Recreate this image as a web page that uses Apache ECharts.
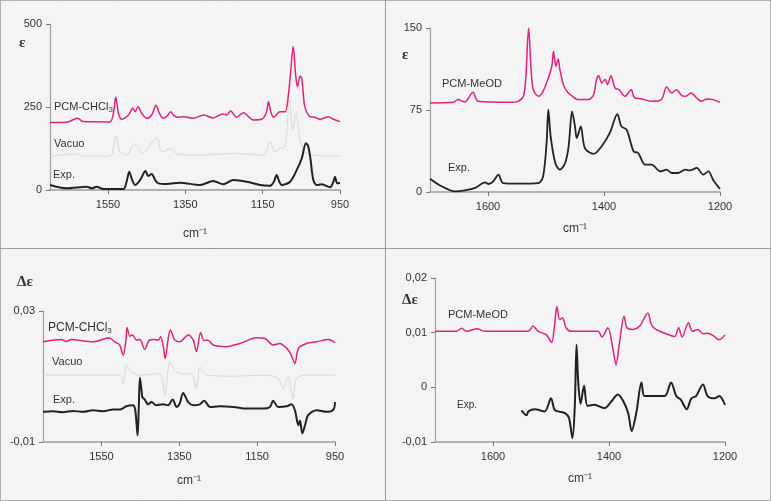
<!DOCTYPE html>
<html>
<head>
<meta charset="utf-8">
<script src="https://cdn.jsdelivr.net/npm/echarts@6/dist/echarts.min.js"></script>
<style>html,body{margin:0;padding:0;background:#fff}#c{width:771px;height:501px}</style>
</head>
<body>
<div id="c"></div>
<script>
// ---------- Data (wavenumber cm-1, value) ----------
// Panel A: IR epsilon, CHCl3
const irChclPcm = [[1700,203],[1657,204],[1629,216],[1614,206],[1545,205],[1536,231],[1530,279],[1523,231],[1515,213],[1497,226],[1486,246],[1480,236],[1472,251],[1463,231],[1450,216],[1437,226],[1426,255],[1417,231],[1407,216],[1397,223],[1388,236],[1381,226],[1372,219],[1355,221],[1329,216],[1303,226],[1278,217],[1253,229],[1243,226],[1233,238],[1217,219],[1200,233],[1174,211],[1153,213],[1141,231],[1135,266],[1129,236],[1122,219],[1105,236],[1092,236],[1084,281],[1078,351],[1071,432],[1065,351],[1060,311],[1053,343],[1049,336],[1045,291],[1041,251],[1028,221],[1015,219],[1002,213],[980,221],[967,213],[950,206]];
const irChclVac = [[1700,102],[1629,108],[1614,102],[1545,102],[1530,161],[1519,115],[1502,105],[1482,139],[1474,131],[1463,110],[1424,156],[1411,115],[1385,125],[1372,108],[1312,105],[1226,110],[1148,105],[1131,146],[1118,115],[1105,126],[1092,131],[1081,271],[1072,181],[1064,231],[1053,151],[1041,115],[1019,105],[950,102]];
const irChclExp = [[1700,15],[1657,5],[1605,10],[1592,5],[1579,10],[1562,3],[1510,3],[1502,25],[1495,55],[1489,35],[1480,15],[1467,30],[1453,57],[1446,42],[1437,48],[1428,30],[1420,20],[1398,18],[1364,22],[1312,15],[1278,27],[1252,17],[1226,30],[1191,25],[1157,15],[1131,13],[1121,25],[1114,45],[1107,25],[1101,15],[1079,25],[1060,65],[1049,95],[1038,141],[1032,131],[1026,90],[1019,30],[1010,15],[997,17],[976,8],[967,25],[963,40],[957,20],[950,22]];
// Panel B: IR epsilon, MeOD
const irMeodPcm = [[1700,81.4],[1660,82.0],[1652,84.5],[1640,82.3],[1626,91.2],[1617,82.9],[1559,82.0],[1548,82.9],[1539,87.5],[1535,102.8],[1530,150],[1526,115],[1522,93.6],[1513,87.5],[1505,92.1],[1496,104.3],[1490,115],[1487,128.7],[1483,115],[1479,121.7],[1476,111.9],[1470,98.2],[1464,92.1],[1456,88.1],[1444,84.5],[1427,84.5],[1418,89.0],[1413,102.8],[1409,106.4],[1404,99.7],[1398,102.8],[1394,98.2],[1388,106.4],[1381,95.1],[1374,93.6],[1364,87.5],[1353,93.6],[1348,86.6],[1335,85.1],[1318,82.9],[1301,84.5],[1292,96.0],[1283,90.6],[1275,93.6],[1266,88.1],[1259,87.5],[1250,90.6],[1240,86.0],[1232,82.9],[1223,85.1],[1212,84.5],[1200,82.0]];
const irMeodExp = [[1700,12.2],[1680,5.2],[1657,0.6],[1640,1.5],[1622,3.7],[1605,8.8],[1599,7.3],[1591,9.8],[1582,15.9],[1574,8.2],[1548,7.6],[1513,8.2],[1505,14.3],[1499,44.8],[1496,75.3],[1492,50.9],[1484,26.5],[1476,20.4],[1467,26.5],[1461,41.8],[1455,73.8],[1450,60],[1447,49.4],[1440,60],[1433,40.2],[1418,34.8],[1404,41.8],[1390,54],[1377,71.3],[1370,60],[1361,57],[1349,37.2],[1341,35.7],[1329,25],[1318,25],[1303,18.9],[1292,20.4],[1283,17.4],[1272,17.4],[1260,20.4],[1252,19.8],[1240,22],[1229,15.9],[1220,18.9],[1212,11.3],[1200,2.7]];
// Panel C: VCD delta-epsilon, CHCl3
const vcdChclPcm = [[1700,0.0206],[1653,0.0213],[1640,0.0207],[1627,0.0213],[1571,0.0206],[1529,0.0218],[1516,0.0206],[1503,0.0196],[1494,0.0165],[1487,0.0211],[1484,0.0250],[1477,0.0223],[1470,0.0227],[1460,0.0211],[1451,0.0213],[1439,0.0183],[1427,0.0211],[1417,0.0213],[1404,0.0211],[1398,0.0221],[1391,0.0191],[1386,0.0155],[1379,0.0211],[1373,0.0242],[1361,0.0211],[1349,0.0206],[1327,0.0227],[1314,0.0211],[1306,0.0176],[1295,0.0234],[1287,0.0211],[1276,0.0211],[1263,0.0196],[1229,0.0191],[1194,0.0201],[1151,0.0218],[1130,0.0216],[1109,0.0196],[1092,0.0201],[1074,0.0186],[1064,0.0170],[1053,0.0140],[1044,0.0186],[1023,0.0201],[997,0.0206],[967,0.0213],[950,0.0203]];
const vcdChclVac = [[1700,0.0104],[1503,0.0104],[1494,0.0079],[1486,0.0135],[1473,0.0114],[1451,0.0104],[1400,0.0109],[1387,0.0043],[1374,0.0145],[1361,0.0119],[1349,0.0109],[1319,0.0107],[1306,0.0063],[1297,0.0130],[1280,0.0104],[1211,0.0101],[1126,0.0104],[1096,0.0094],[1083,0.0063],[1070,0.0099],[1066,0.0079],[1057,0.0033],[1049,0.0094],[1023,0.0104],[950,0.0104]];
const vcdChclExp = [[1700,-0.0008],[1674,-0.0006],[1649,-0.0009],[1623,-0.0005],[1597,-0.0008],[1571,-0.0003],[1546,-0.0006],[1520,-0.0001],[1503,-0.0001],[1486,0.0009],[1469,0.0012],[1463,-0.0003],[1457,-0.0080],[1454,0.0007],[1451,0.0096],[1447,0.0058],[1445,0.0038],[1439,0.0030],[1430,0.0015],[1421,0.0022],[1409,0.0012],[1391,0.0015],[1379,0.0012],[1367,0.0030],[1357,0.0007],[1349,0.0017],[1340,0.0050],[1327,0.0022],[1314,0.0012],[1297,0.0015],[1286,0.0026],[1271,0.0007],[1246,0.0009],[1211,0.0007],[1177,0.0002],[1134,0.0002],[1117,0.0007],[1109,0.0026],[1096,0.0007],[1074,0.0009],[1062,0.0015],[1053,-0.0003],[1044,-0.0049],[1040,-0.0034],[1034,-0.0074],[1027,-0.0049],[1019,-0.0018],[997,-0.0003],[972,-0.0008],[954,-0.0001],[950,0.0022]];
// Panel D: VCD delta-epsilon, MeOD
const vcdMeodPcm = [[1700,0.01025],[1663,0.01025],[1654,0.0108],[1646,0.01025],[1627,0.0107],[1614,0.01025],[1539,0.01025],[1531,0.0112],[1522,0.01025],[1508,0.0096],[1499,0.0082],[1494,0.0112],[1490,0.0148],[1485,0.0124],[1480,0.0127],[1474,0.0109],[1465,0.01025],[1419,0.01025],[1412,0.0092],[1402,0.0109],[1393,0.0069],[1388,0.0041],[1382,0.0081],[1374,0.0130],[1369,0.0109],[1359,0.0106],[1347,0.0112],[1333,0.0136],[1327,0.0115],[1319,0.0106],[1304,0.0099],[1287,0.0093],[1280,0.0109],[1274,0.0092],[1263,0.0118],[1256,0.01025],[1247,0.0106],[1238,0.0098],[1230,0.0099],[1221,0.0095],[1210,0.0087],[1200,0.0096]];
const vcdMeodExp = [[1551,-0.0042],[1542,-0.0051],[1539,-0.0044],[1528,-0.0040],[1511,-0.0044],[1500,-0.0020],[1494,-0.0041],[1488,-0.0044],[1476,-0.0047],[1469,-0.0056],[1463,-0.0093],[1459,-0.0035],[1456,0.0078],[1453,0.0008],[1449,-0.0030],[1443,0.0003],[1437,-0.0034],[1425,-0.0032],[1408,-0.0038],[1396,-0.0026],[1385,-0.0013],[1376,-0.0024],[1367,-0.0047],[1361,-0.0080],[1353,-0.0047],[1344,0.0009],[1339,-0.0016],[1327,-0.0016],[1304,-0.0016],[1293,0.0009],[1284,-0.0016],[1276,-0.0023],[1266,-0.0040],[1258,-0.0020],[1250,-0.0016],[1238,0.0005],[1230,-0.0016],[1218,-0.0020],[1210,-0.0016],[1200,-0.0032]];

// ---------- Styling ----------
const FONT = "'Liberation Sans', Arial, sans-serif";
const MAGENTA = '#e0237c';
const BLACK = '#222';
const VAC = '#d6dad7';
const fmt = v => { const r = Math.round(v * 100) / 100; return String(r).replace('.', ','); };

const grids = [
  {left: 50, width: 290, top: 24, height: 166},
  {left: 430, width: 290, top: 28, height: 164},
  {left: 43, width: 292, top: 311, height: 131},
  {left: 435, width: 290, top: 278, height: 164}
];
const xr = [[950,1700,200,38],[1200,1700,200,31],[950,1700,200,33],[1200,1700,200,31]];
const yr = [[0,500,250],[0,150,75],[-0.01,0.03,0.04],[-0.01,0.02,0.01]];

const xAxis = xr.map((r, i) => ({
  gridIndex: i, type: 'value', inverse: true, min: r[0], max: r[1], interval: r[2],
  name: 'cm\u207B\u00B9', nameLocation: 'middle', nameGap: r[3],
  nameTextStyle: {fontFamily: FONT, fontSize: 12, color: '#333'},
  axisLine: {onZero: false, lineStyle: {color: '#9a9a9a', width: 1.5}},
  axisTick: {length: 4, lineStyle: {color: '#777'}},
  axisLabel: {fontFamily: FONT, fontSize: 11, color: '#333', margin: 9, showMaxLabel: false,
    formatter: v => String(Math.round(v))},
  splitLine: {show: false}
}));
const yAxis = yr.map((r, i) => ({
  gridIndex: i, type: 'value', min: r[0], max: r[1], interval: r[2],
  axisLine: {show: true, onZero: false, lineStyle: {color: '#a0a0a0', width: 1.2}},
  axisTick: {show: true, length: 4, lineStyle: {color: '#777'}},
  axisLabel: {fontFamily: FONT, fontSize: 11, color: '#333', margin: 8,
    formatter: i >= 2 ? fmt : (v => String(Math.round(v)))},
  splitLine: {show: false}
}));

function line(data, idx, color, width, z) {
  return {type: 'line', xAxisIndex: idx, yAxisIndex: idx, data: data, showSymbol: false,
    smooth: 0.3, lineStyle: {color: color, width: width}, z: z, animation: false};
}
const series = [
  line(irChclVac, 0, VAC, 1, 2), line(irChclPcm, 0, MAGENTA, 1.5, 3), line(irChclExp, 0, BLACK, 2, 3),
  line(irMeodPcm, 1, MAGENTA, 1.5, 3), line(irMeodExp, 1, BLACK, 1.8, 3),
  line(vcdChclVac, 2, VAC, 1, 2), line(vcdChclPcm, 2, MAGENTA, 1.5, 3), line(vcdChclExp, 2, BLACK, 2, 3),
  line(vcdMeodPcm, 3, MAGENTA, 1.5, 3), line(vcdMeodExp, 3, BLACK, 2, 3)
];

function frame(x, y, w, h) {
  return {type: 'rect', z: -5, shape: {x: x, y: y, width: w, height: h},
    style: {fill: '#f4f4f4', stroke: '#666', lineWidth: 1, lineDash: [1, 1]}};
}
const sub = {s: {fontSize: 8, fontFamily: FONT, fill: '#333', padding: [6, 0, 0, 0]}};
function txt(x, y, text, size, opts) {
  return Object.assign({type: 'text', z: 20, x: x, y: y,
    style: {text: text, fontFamily: FONT, fontSize: size, fill: '#333', verticalAlign: 'middle', rich: sub}}, opts || {});
}
function greek(x, y, text, size) {
  return {type: 'text', z: 20, x: x, y: y,
    style: {text: text, fontFamily: "'Liberation Serif', 'DejaVu Serif', serif", fontWeight: 'bold',
      fontSize: size, fill: '#333', verticalAlign: 'middle'}};
}

const graphic = [
  frame(0.5, 0.5, 385, 248), frame(385.5, 0.5, 385, 248),
  frame(0.5, 248.5, 385, 252), frame(385.5, 248.5, 385, 252),
  greek(19, 43, '\u03B5', 15),
  txt(54, 107, 'PCM-CHCl{s|3}', 11), txt(54, 144, 'Vacuo', 11), txt(53, 175, 'Exp.', 11),
  greek(402, 55, '\u03B5', 15),
  txt(442, 84, 'PCM-MeOD', 11), txt(448, 168, 'Exp.', 11),
  greek(17, 282, '\u0394\u03B5', 15),
  txt(48, 328, 'PCM-CHCl{s|3}', 12), txt(52, 362, 'Vacuo', 11), txt(53, 400, 'Exp.', 11),
  greek(402, 300, '\u0394\u03B5', 15),
  txt(448, 315, 'PCM-MeOD', 11), txt(457, 405, 'Exp.', 10)
];

const chart = echarts.init(document.getElementById('c'), null, {renderer: 'canvas'});
chart.setOption({
  backgroundColor: '#ffffff',
  animation: false,
  grid: grids,
  xAxis: xAxis,
  yAxis: yAxis,
  series: series,
  graphic: graphic
});
</script>
</body>
</html>
